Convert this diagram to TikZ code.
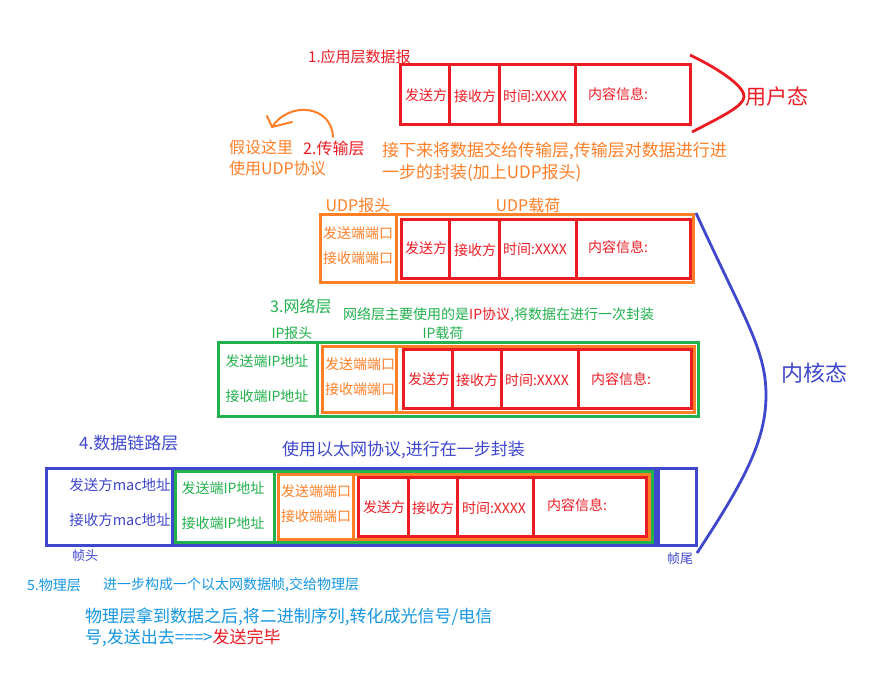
\documentclass[tikz,border=0pt]{standalone}
\usepackage{fontspec}
\setmainfont{Noto Sans CJK SC}
\usetikzlibrary{arrows.meta}
\definecolor{pred}{RGB}{237,28,36}
\definecolor{porange}{RGB}{255,127,39}
\definecolor{pgreen}{RGB}{34,177,76}
\definecolor{pblue}{RGB}{63,72,204}
\definecolor{plblue}{RGB}{20,150,225}
\newcommand{\fsz}[1]{\fontsize{#1}{#1}\selectfont}
\begin{document}
\begin{tikzpicture}[x=1pt,y=-1pt,
  bx/.style={line width=3pt},
  lbl/.style={inner sep=0pt},
  cell/.style={inner sep=0pt,font=\fsz{14}},
  ttl/.style={inner sep=0pt,anchor=west}]
\useasboundingbox (0,0) rectangle (878,684);
\fill[white] (0,0) rectangle (878,684);

% ---------- Layer 1 ----------
\node[ttl,pred,font=\fsz{15}] (l1title) at (308,57) {1.应用层数据报};
\draw[bx,pred] (400,65) rectangle (690,125);
\draw[bx,pred] (449,65)--(449,125) (499,65)--(499,125) (575,65)--(575,125);
\node[cell,pred] (a1) at (426,95) {发送方};
\node[cell,pred] (b1) at (475,96) {接收方};
\node[cell,pred] (c1) at (535,96) {时间:XXXX};
\node[cell,pred] (d1) at (618,94) {内容信息:};
\coordinate (u1) at (690,55);
\coordinate (u2) at (744,97);
\coordinate (u3) at (692,132);
\draw[pred,line width=2.8pt] (u1) .. controls (725,72) and (745,88) .. (u2) .. controls (743,106) and (725,115) .. (u3);
\node[ttl,pred,font=\fsz{21}] (user) at (745,97) {用户态};

% ---------- Layer 2 ----------
\coordinate (ar0) at (333,137);
\coordinate (ar1) at (272,127);
\draw[porange,line width=2pt,line cap=round] (ar0) .. controls (332,106) and (290,100) .. (ar1);
\draw[porange,line width=2pt,line cap=round,line join=round] (267,116) -- (ar1) -- (292,122);
\node[ttl,porange,font=\fsz{16}] (assume1) at (229,147) {假设这里};
\node[ttl,porange,font=\fsz{16}] (assume2) at (229,168) {使用UDP协议};
\node[ttl,pred,font=\fsz{16}] (l2title) at (303,148) {2.传输层};
\node[ttl,porange,font=\fsz{17}] (l2desc1) at (382,151) {接下来将数据交给传输层,传输层对数据进行进};
\node[ttl,porange,font=\fsz{17}] (l2desc2) at (382,173) {一步的封装(加上UDP报头)};
\node[lbl,porange,font=\fsz{16}] (udph) at (358,205) {UDP报头};
\node[lbl,porange,font=\fsz{16}] (udpp) at (528,205) {UDP载荷};
\draw[bx,porange] (320,215) rectangle (693,283);
\draw[bx,porange] (396,215)--(396,283);
\draw[bx,pred] (401,220) rectangle (690,279);
\draw[bx,pred] (449,220)--(449,279) (499,220)--(499,279) (576,220)--(576,279);
\node[cell,porange] (sp2) at (358,233) {发送端端口};
\node[cell,porange] (rp2) at (358,258) {接收端端口};
\node[cell,pred] (a2) at (426,248) {发送方};
\node[cell,pred] (b2) at (475,250) {接收方};
\node[cell,pred] (c2) at (535,249) {时间:XXXX};
\node[cell,pred] (d2) at (618,247) {内容信息:};

% ---------- Layer 3 ----------
\node[ttl,pgreen,font=\fsz{16}] (l3title) at (270,306) {3.网络层};
\node[ttl,pgreen,font=\fsz{14}] (l3desc) at (343,315) {网络层主要使用的是\textcolor{pred}{IP协议},将数据在进行一次封装};
\node[lbl,pgreen,font=\fsz{14}] (iph) at (292,333) {IP报头};
\node[lbl,pgreen,font=\fsz{14}] (ipp) at (443,333) {IP载荷};
\draw[bx,pgreen] (218,343) rectangle (698,416);
\draw[bx,pgreen] (317,343)--(317,416);
\draw[bx,porange] (322,346.5) rectangle (694.5,412.5);
\draw[bx,porange] (396,346.5)--(396,412.5);
\draw[bx,pred] (403,350) rectangle (691,408);
\draw[bx,pred] (452,350)--(452,408) (501,350)--(501,408) (578,350)--(578,408);
\node[cell,pgreen] (sip3) at (267,361) {发送端IP地址};
\node[cell,pgreen] (rip3) at (267,396) {接收端IP地址};
\node[cell,porange] (sp3) at (360,364) {发送端端口};
\node[cell,porange] (rp3) at (360,389) {接收端端口};
\node[cell,pred] (a3) at (429,379) {发送方};
\node[cell,pred] (b3) at (477,380) {接收方};
\node[cell,pred] (c3) at (537,380) {时间:XXXX};
\node[cell,pred] (d3) at (621,379) {内容信息:};

% ---------- Layer 4 ----------
\node[ttl,pblue,font=\fsz{17}] (l4title) at (79,443) {4.数据链路层};
\node[ttl,pblue,font=\fsz{17}] (l4desc) at (282,450) {使用以太网协议,进行在一步封装};
\draw[bx,pblue] (46,468) rectangle (655,545);
\draw[bx,pblue] (172,468)--(172,545);
\draw[bx,pblue] (658.5,468) rectangle (696,545);
\draw[bx,pgreen] (175,471) rectangle (652,542);
\draw[bx,pgreen] (274,471)--(274,542);
\draw[bx,porange] (278,474) rectangle (649.5,539.5);
\draw[bx,porange] (353,474)--(353,539.5);
\draw[bx,pred] (358,477) rectangle (646,536.5);
\draw[bx,pred] (408,477)--(408,536.5) (457,477)--(457,536.5) (533,477)--(533,536.5);
\node[cell,pblue,font=\fsz{14.5}] (smac) at (120,485) {发送方mac地址};
\node[cell,pblue,font=\fsz{14.5}] (rmac) at (120,520) {接收方mac地址};
\node[cell,pgreen] (sip4) at (223,488) {发送端IP地址};
\node[cell,pgreen] (rip4) at (223,523) {接收端IP地址};
\node[cell,porange] (sp4) at (316,491) {发送端端口};
\node[cell,porange] (rp4) at (316,516) {接收端端口};
\node[cell,pred] (a4) at (384,507) {发送方};
\node[cell,pred] (b4) at (433,508) {接收方};
\node[cell,pred] (c4) at (494,508) {时间:XXXX};
\node[cell,pred] (d4) at (577,505) {内容信息:};
\node[lbl,pblue,font=\fsz{13}] (fhead) at (85,556) {帧头};
\node[lbl,pblue,font=\fsz{13}] (ftail) at (680,559) {帧尾};

% kernel-state brace
\coordinate (k1) at (696,213);
\coordinate (k2) at (766,395);
\coordinate (k3) at (697,553);
\draw[pblue,line width=2.8pt] (k1) .. controls (745,320) and (766,350) .. (k2) .. controls (766,440) and (745,480) .. (k3);
\node[ttl,pblue,font=\fsz{22}] (kernel) at (781,373) {内核态};

% ---------- Layer 5 ----------
\node[ttl,plblue,font=\fsz{14}] (l5title) at (27,585) {5.物理层};
\node[ttl,plblue,font=\fsz{14}] (l5desc) at (103,585) {进一步构成一个以太网数据帧,交给物理层};
\node[ttl,plblue,font=\fsz{17}] (phys1) at (85,617) {物理层拿到数据之后,将二进制序列,转化成光信号/电信};
\node[ttl,plblue,font=\fsz{17}] (phys2) at (85,638) {号,发送出去===>\textcolor{pred}{发送完毕}};
\end{tikzpicture}
\end{document}
